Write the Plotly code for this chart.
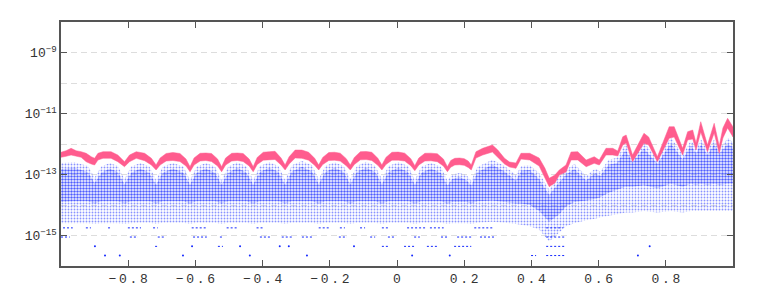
import plotly.graph_objects as go

# ---------------- data (log10 values) ----------------
pink_x = [-1.000, -0.985, -0.970, -0.955, -0.940, -0.925, -0.910, -0.900, -0.890, -0.875,
          -0.851, -0.831, -0.811, -0.796, -0.776, -0.751, -0.731, -0.717,
          -0.705, -0.687, -0.667, -0.646, -0.628, -0.616,
          -0.604, -0.586, -0.569, -0.552, -0.534, -0.522,
          -0.510, -0.492, -0.475, -0.458, -0.440, -0.428,
          -0.416, -0.398, -0.380, -0.363, -0.345, -0.333,
          -0.321, -0.303, -0.283, -0.263, -0.245, -0.233,
          -0.221, -0.203, -0.186, -0.169, -0.151, -0.139,
          -0.127, -0.109, -0.092, -0.075, -0.057, -0.045,
          -0.033, -0.015, 0.004, 0.023, 0.041, 0.053,
          0.065, 0.083, 0.101, 0.120, 0.138, 0.150,
          0.160, 0.172, 0.186, 0.200, 0.212, 0.221,
          0.235, 0.255, 0.284, 0.300, 0.320, 0.335, 0.354,
          0.369, 0.395, 0.423, 0.440, 0.453, 0.470, 0.483, 0.503, 0.518, 0.538,
          0.563, 0.587, 0.602, 0.622, 0.642, 0.657, 0.672, 0.682, 0.701, 0.735,
          0.749, 0.775, 0.810, 0.825, 0.850, 0.865, 0.880, 0.890, 0.904, 0.924,
          0.944, 0.959, 0.970, 0.984, 1.000]
pink_hi = [-12.272, -12.220, -12.141, -12.220, -12.252, -12.305, -12.416, -12.469, -12.305, -12.252,
           -12.252, -12.361, -12.580, -12.361, -12.252, -12.305, -12.469, -12.689,
           -12.459, -12.311, -12.279, -12.311, -12.492, -12.744,
           -12.459, -12.305, -12.295, -12.311, -12.492, -12.744,
           -12.459, -12.305, -12.295, -12.311, -12.492, -12.744,
           -12.440, -12.270, -12.252, -12.240, -12.459, -12.689,
           -12.420, -12.197, -12.200, -12.270, -12.470, -12.689,
           -12.440, -12.280, -12.270, -12.300, -12.480, -12.689,
           -12.440, -12.252, -12.245, -12.270, -12.470, -12.689,
           -12.440, -12.270, -12.265, -12.300, -12.480, -12.710,
           -12.459, -12.305, -12.300, -12.320, -12.492, -12.744,
           -12.540, -12.469, -12.460, -12.480, -12.560, -12.689,
           -12.252, -12.141, -12.033, -12.197, -12.469, -12.590, -12.623,
           -12.305, -12.305, -12.459, -12.787, -13.125, -13.016, -12.852, -12.689, -12.262, -12.252,
           -12.525, -12.416, -12.525, -12.141, -12.141, -12.230, -11.761, -11.705, -12.361, -11.649,
           -11.770, -12.416, -11.433, -11.433, -12.141, -11.597, -11.541, -11.967, -11.269, -12.033,
           -11.321, -12.066, -11.475, -11.157, -11.443]
pink_lo = [-12.436, -12.403, -12.361, -12.393, -12.436, -12.580, -12.656, -12.689, -12.525, -12.469,
           -12.469, -12.580, -12.744, -12.580, -12.469, -12.548, -12.689, -12.852,
           -12.689, -12.557, -12.541, -12.574, -12.721, -12.908,
           -12.689, -12.557, -12.541, -12.574, -12.721, -12.908,
           -12.689, -12.557, -12.541, -12.574, -12.721, -12.908,
           -12.672, -12.530, -12.508, -12.508, -12.689, -12.852,
           -12.656, -12.460, -12.470, -12.530, -12.700, -12.852,
           -12.672, -12.540, -12.530, -12.560, -12.710, -12.852,
           -12.672, -12.520, -12.510, -12.540, -12.700, -12.852,
           -12.672, -12.530, -12.530, -12.560, -12.710, -12.875,
           -12.689, -12.557, -12.550, -12.580, -12.721, -12.908,
           -12.760, -12.689, -12.680, -12.700, -12.770, -12.852,
           -12.459, -12.361, -12.262, -12.426, -12.656, -12.754, -12.797,
           -12.492, -12.525, -12.721, -13.115, -13.400, -13.279, -13.016, -12.918, -12.525, -12.525,
           -12.744, -12.633, -12.689, -12.361, -12.361, -12.393, -12.033, -11.967, -12.580, -11.977,
           -12.033, -12.580, -11.813, -11.770, -12.361, -11.869, -11.836, -12.197, -11.607, -12.252,
           -11.639, -12.305, -11.803, -11.475, -11.770]

blue_x = [-1.000, -0.960, -0.920, -0.900, -0.880, -0.855, -0.831, -0.811, -0.791, -0.764,
          -0.737, -0.717, -0.697, -0.667, -0.636, -0.616, -0.596, -0.569, -0.542, -0.522,
          -0.502, -0.475, -0.448, -0.428, -0.408, -0.380, -0.353, -0.333, -0.313, -0.283,
          -0.253, -0.233, -0.213, -0.186, -0.159, -0.139, -0.119, -0.092, -0.065, -0.045,
          -0.025, 0.004, 0.033, 0.053, 0.073, 0.101, 0.130, 0.150, 0.165, 0.186,
          0.206, 0.221, 0.240, 0.284, 0.320, 0.354, 0.370, 0.395, 0.423, 0.453,
          0.483, 0.503, 0.528, 0.563, 0.590, 0.605, 0.630, 0.655, 0.680, 0.701,
          0.735, 0.775, 0.815, 0.850, 0.875, 0.890, 0.905, 0.924, 0.944, 0.960,
          0.985, 1.000]
blue_top = [-12.62, -12.60, -12.72, -13.10, -12.74, -12.62, -12.72, -13.15, -12.74, -12.62,
            -12.74, -13.18, -12.74, -12.62, -12.74, -13.18, -12.74, -12.62, -12.74, -13.18,
            -12.74, -12.60, -12.74, -13.18, -12.72, -12.60, -12.72, -13.18, -12.70, -12.56,
            -12.70, -13.15, -12.72, -12.60, -12.72, -13.15, -12.72, -12.58, -12.72, -13.15,
            -12.72, -12.60, -12.72, -13.18, -12.74, -12.62, -12.74, -13.20, -13.00, -12.95,
            -13.02, -13.20, -12.75, -12.52, -12.72, -13.02, -12.72, -12.70, -12.95, -13.50,
            -13.05, -12.85, -12.65, -13.05, -12.80, -12.90, -12.52, -12.45, -12.00, -12.45,
            -11.95, -12.50, -11.78, -12.35, -11.88, -12.15, -11.85, -12.20, -11.85, -12.15,
            -11.80, -11.95]
core_top = [-12.82, -12.78, -12.92, -13.28, -12.94, -12.80, -12.92, -13.32, -12.94, -12.80,
            -12.94, -13.34, -12.94, -12.80, -12.94, -13.34, -12.94, -12.80, -12.94, -13.34,
            -12.94, -12.78, -12.94, -13.34, -12.92, -12.78, -12.92, -13.34, -12.90, -12.75,
            -12.90, -13.32, -12.92, -12.78, -12.92, -13.32, -12.92, -12.78, -12.92, -13.32,
            -12.92, -12.78, -12.92, -13.34, -12.94, -12.80, -12.94, -13.36, -13.15, -13.08,
            -13.18, -13.36, -12.92, -12.68, -12.90, -13.20, -12.88, -12.85, -13.15, -13.67,
            -13.25, -13.00, -12.82, -13.20, -12.95, -13.05, -12.68, -12.62, -12.20, -12.60,
            -12.15, -12.65, -11.98, -12.50, -12.05, -12.30, -12.02, -12.35, -12.02, -12.30,
            -11.98, -12.12]
core_bot = [-13.90, -13.88, -13.88, -13.95, -13.88, -13.88, -13.88, -13.95, -13.88, -13.88,
            -13.88, -13.95, -13.88, -13.88, -13.88, -13.95, -13.88, -13.88, -13.88, -13.95,
            -13.88, -13.88, -13.88, -13.95, -13.88, -13.88, -13.88, -13.95, -13.88, -13.88,
            -13.88, -13.95, -13.88, -13.88, -13.88, -13.95, -13.88, -13.88, -13.88, -13.95,
            -13.88, -13.88, -13.88, -13.95, -13.88, -13.88, -13.88, -13.95, -13.90, -13.90,
            -13.90, -13.95, -13.88, -13.85, -13.90, -13.95, -13.95, -14.00, -14.20, -14.55,
            -14.30, -14.05, -13.90, -13.85, -13.80, -13.75, -13.60, -13.50, -13.40, -13.40,
            -13.35, -13.45, -13.30, -13.40, -13.30, -13.35, -13.30, -13.35, -13.30, -13.35,
            -13.30, -13.30]
halo_bot = [-14.60, -14.60, -14.60, -14.62, -14.60, -14.60, -14.60, -14.62, -14.60, -14.58,
            -14.58, -14.62, -14.58, -14.58, -14.58, -14.62, -14.58, -14.58, -14.58, -14.62,
            -14.58, -14.58, -14.58, -14.62, -14.58, -14.58, -14.58, -14.62, -14.58, -14.58,
            -14.58, -14.62, -14.58, -14.58, -14.58, -14.62, -14.58, -14.58, -14.58, -14.62,
            -14.58, -14.58, -14.58, -14.62, -14.58, -14.58, -14.58, -14.62, -14.60, -14.60,
            -14.60, -14.62, -14.58, -14.55, -14.58, -14.62, -14.65, -14.70, -14.80, -15.20,
            -14.90, -14.70, -14.60, -14.50, -14.45, -14.40, -14.35, -14.30, -14.25, -14.25,
            -14.20, -14.25, -14.20, -14.25, -14.20, -14.20, -14.20, -14.20, -14.20, -14.20,
            -14.20, -14.20]

# quantised rows of tiny errors: level value, then runs (x start, x end)
row_levels = [1.78e-15, 8.9e-16, 4.4e-16, 2.2e-16]
row_runs = [
    [(-0.994, -0.965), (-0.926, -0.911), (-0.860, -0.851), (-0.801, -0.762), (-0.726, -0.712),
     (-0.611, -0.567), (-0.507, -0.477), (-0.418, -0.398), (-0.233, -0.203), (-0.170, -0.155),
     (-0.110, -0.095), (-0.045, -0.027), (0.030, 0.089), (0.098, 0.139), (0.230, 0.289), (0.444, 0.494)],
    [(-1.000, -0.974), (-0.795, -0.771), (-0.712, -0.691), (-0.607, -0.566), (-0.527, -0.518),
     (-0.408, -0.378), (-0.343, -0.313), (-0.283, -0.253), (-0.173, -0.149), (-0.080, -0.065),
     (-0.027, -0.006), (0.051, 0.068), (0.131, 0.149), (0.179, 0.221), (0.247, 0.289), (0.444, 0.503)],
    [(-0.899, -0.899), (-0.720, -0.712), (-0.610, -0.610), (-0.533, -0.518), (-0.467, -0.467),
     (-0.349, -0.349), (-0.322, -0.322), (-0.128, -0.128), (-0.045, -0.027), (0.021, 0.051),
     (0.089, 0.119), (0.170, 0.221), (0.444, 0.503), (0.752, 0.752)],
    [(-0.869, -0.869), (-0.825, -0.825), (-0.637, -0.637), (-0.438, -0.438), (-0.268, -0.268),
     (0.045, 0.045), (0.157, 0.157), (0.399, 0.414), (0.444, 0.500), (0.717, 0.717)],
]

x_ticks = [-0.8, -0.6, -0.4, -0.2, 0, 0.2, 0.4, 0.6, 0.8]
x_tick_text = ["\u22120.8", "\u22120.6", "\u22120.4", "\u22120.2", "0", "0.2", "0.4", "0.6", "0.8"]
y_major = [1e-15, 1e-13, 1e-11, 1e-9]
y_major_text = ["10<sup>\u221215</sup>", "10<sup>\u221213</sup>", "10<sup>\u221211</sup>", "10<sup>\u22129</sup>"]
y_minor = [1e-16, 1e-14, 1e-12, 1e-10, 1e-8]

# ---------------- figure ----------------
PINK = "#ff5c8e"
BLUE = "#1428ff"


def band(xs, top, bot):
    px = list(xs) + list(xs)[::-1]
    py = [10 ** v for v in top] + [10 ** v for v in bot][::-1]
    return px, py


fig = go.Figure()

hx, hy = band(blue_x, blue_top, halo_bot)
fig.add_trace(go.Scatter(x=hx, y=hy, mode="none", fill="toself",
                         fillcolor="rgba(20,40,255,0.10)",
                         fillpattern=dict(shape=".", fgcolor=BLUE, bgcolor="rgba(0,0,0,0)",
                                          size=3, solidity=0.3, fillmode="overlay"),
                         hoverinfo="skip"))
cx, cy = band(blue_x, core_top, core_bot)
fig.add_trace(go.Scatter(x=cx, y=cy, mode="none", fill="toself",
                         fillcolor="rgba(20,40,255,0.42)",
                         fillpattern=dict(shape=".", fgcolor=BLUE, bgcolor="rgba(0,0,0,0)",
                                          size=3, solidity=0.65, fillmode="overlay"),
                         hoverinfo="skip"))

# rows
rx, ry = [], []
for lvl, runs in zip(row_levels, row_runs):
    for a, b in runs:
        if a == b:
            continue
        rx += [a, b, None]
        ry += [lvl, lvl, None]
fig.add_trace(go.Scatter(x=rx, y=ry, mode="lines", line=dict(color=BLUE, width=1, dash="2px,2px"),
                         hoverinfo="skip"))
sx, sy = [], []
for lvl, runs in zip(row_levels, row_runs):
    for a, b in runs:
        if a == b:
            sx.append(a)
            sy.append(lvl)
fig.add_trace(go.Scatter(x=sx, y=sy, mode="markers", marker=dict(color=BLUE, size=2, line=dict(width=0)),
                         hoverinfo="skip"))

# pink band
ppx, ppy = band(pink_x, pink_hi, pink_lo)
fig.add_trace(go.Scatter(x=ppx, y=ppy, mode="lines", fill="toself", fillcolor=PINK,
                         line=dict(color=PINK, width=0.5), hoverinfo="skip"))

# letter-spaced x tick labels (wide spacing as in the reference)
SP = "<span style='font-size:4.5px'>\u00a0</span>"
x_tick_disp = [SP.join(list(t)) for t in x_tick_text]

xfont = dict(family="Liberation Mono", size=13, color="#333333")
yfont = dict(family="Liberation Mono", size=13, color="#333333")
fig.update_layout(
    width=747, height=284,
    margin=dict(l=53, r=22, t=14, b=26, autoexpand=False),
    paper_bgcolor="white", plot_bgcolor="white",
    showlegend=False,
    xaxis=dict(range=[-1, 1], tickmode="array", tickvals=x_ticks, ticktext=x_tick_disp,
               ticks="inside", ticklen=6, tickcolor="#555555", tickwidth=1, automargin=False,
               showline=True, linecolor="#555555", linewidth=1.5, mirror="ticks",
               showgrid=False, zeroline=False, tickfont=xfont),
    yaxis=dict(type="log", range=[-16, -8], tickmode="array", tickvals=y_major, ticktext=y_major_text,
               ticks="inside", ticklen=6, tickcolor="#555555", tickwidth=1, automargin=False,
               showline=True, linecolor="#555555", linewidth=1.5, mirror="ticks",
               showgrid=True, gridcolor="#dddddd", griddash="6px,4px", gridwidth=1,
               zeroline=False, tickfont=yfont,
               minor=dict(tickvals=y_minor, showgrid=True, gridcolor="#dddddd",
                          griddash="6px,4px", gridwidth=1, ticks="")),
)

fig.write_html("out.html")
